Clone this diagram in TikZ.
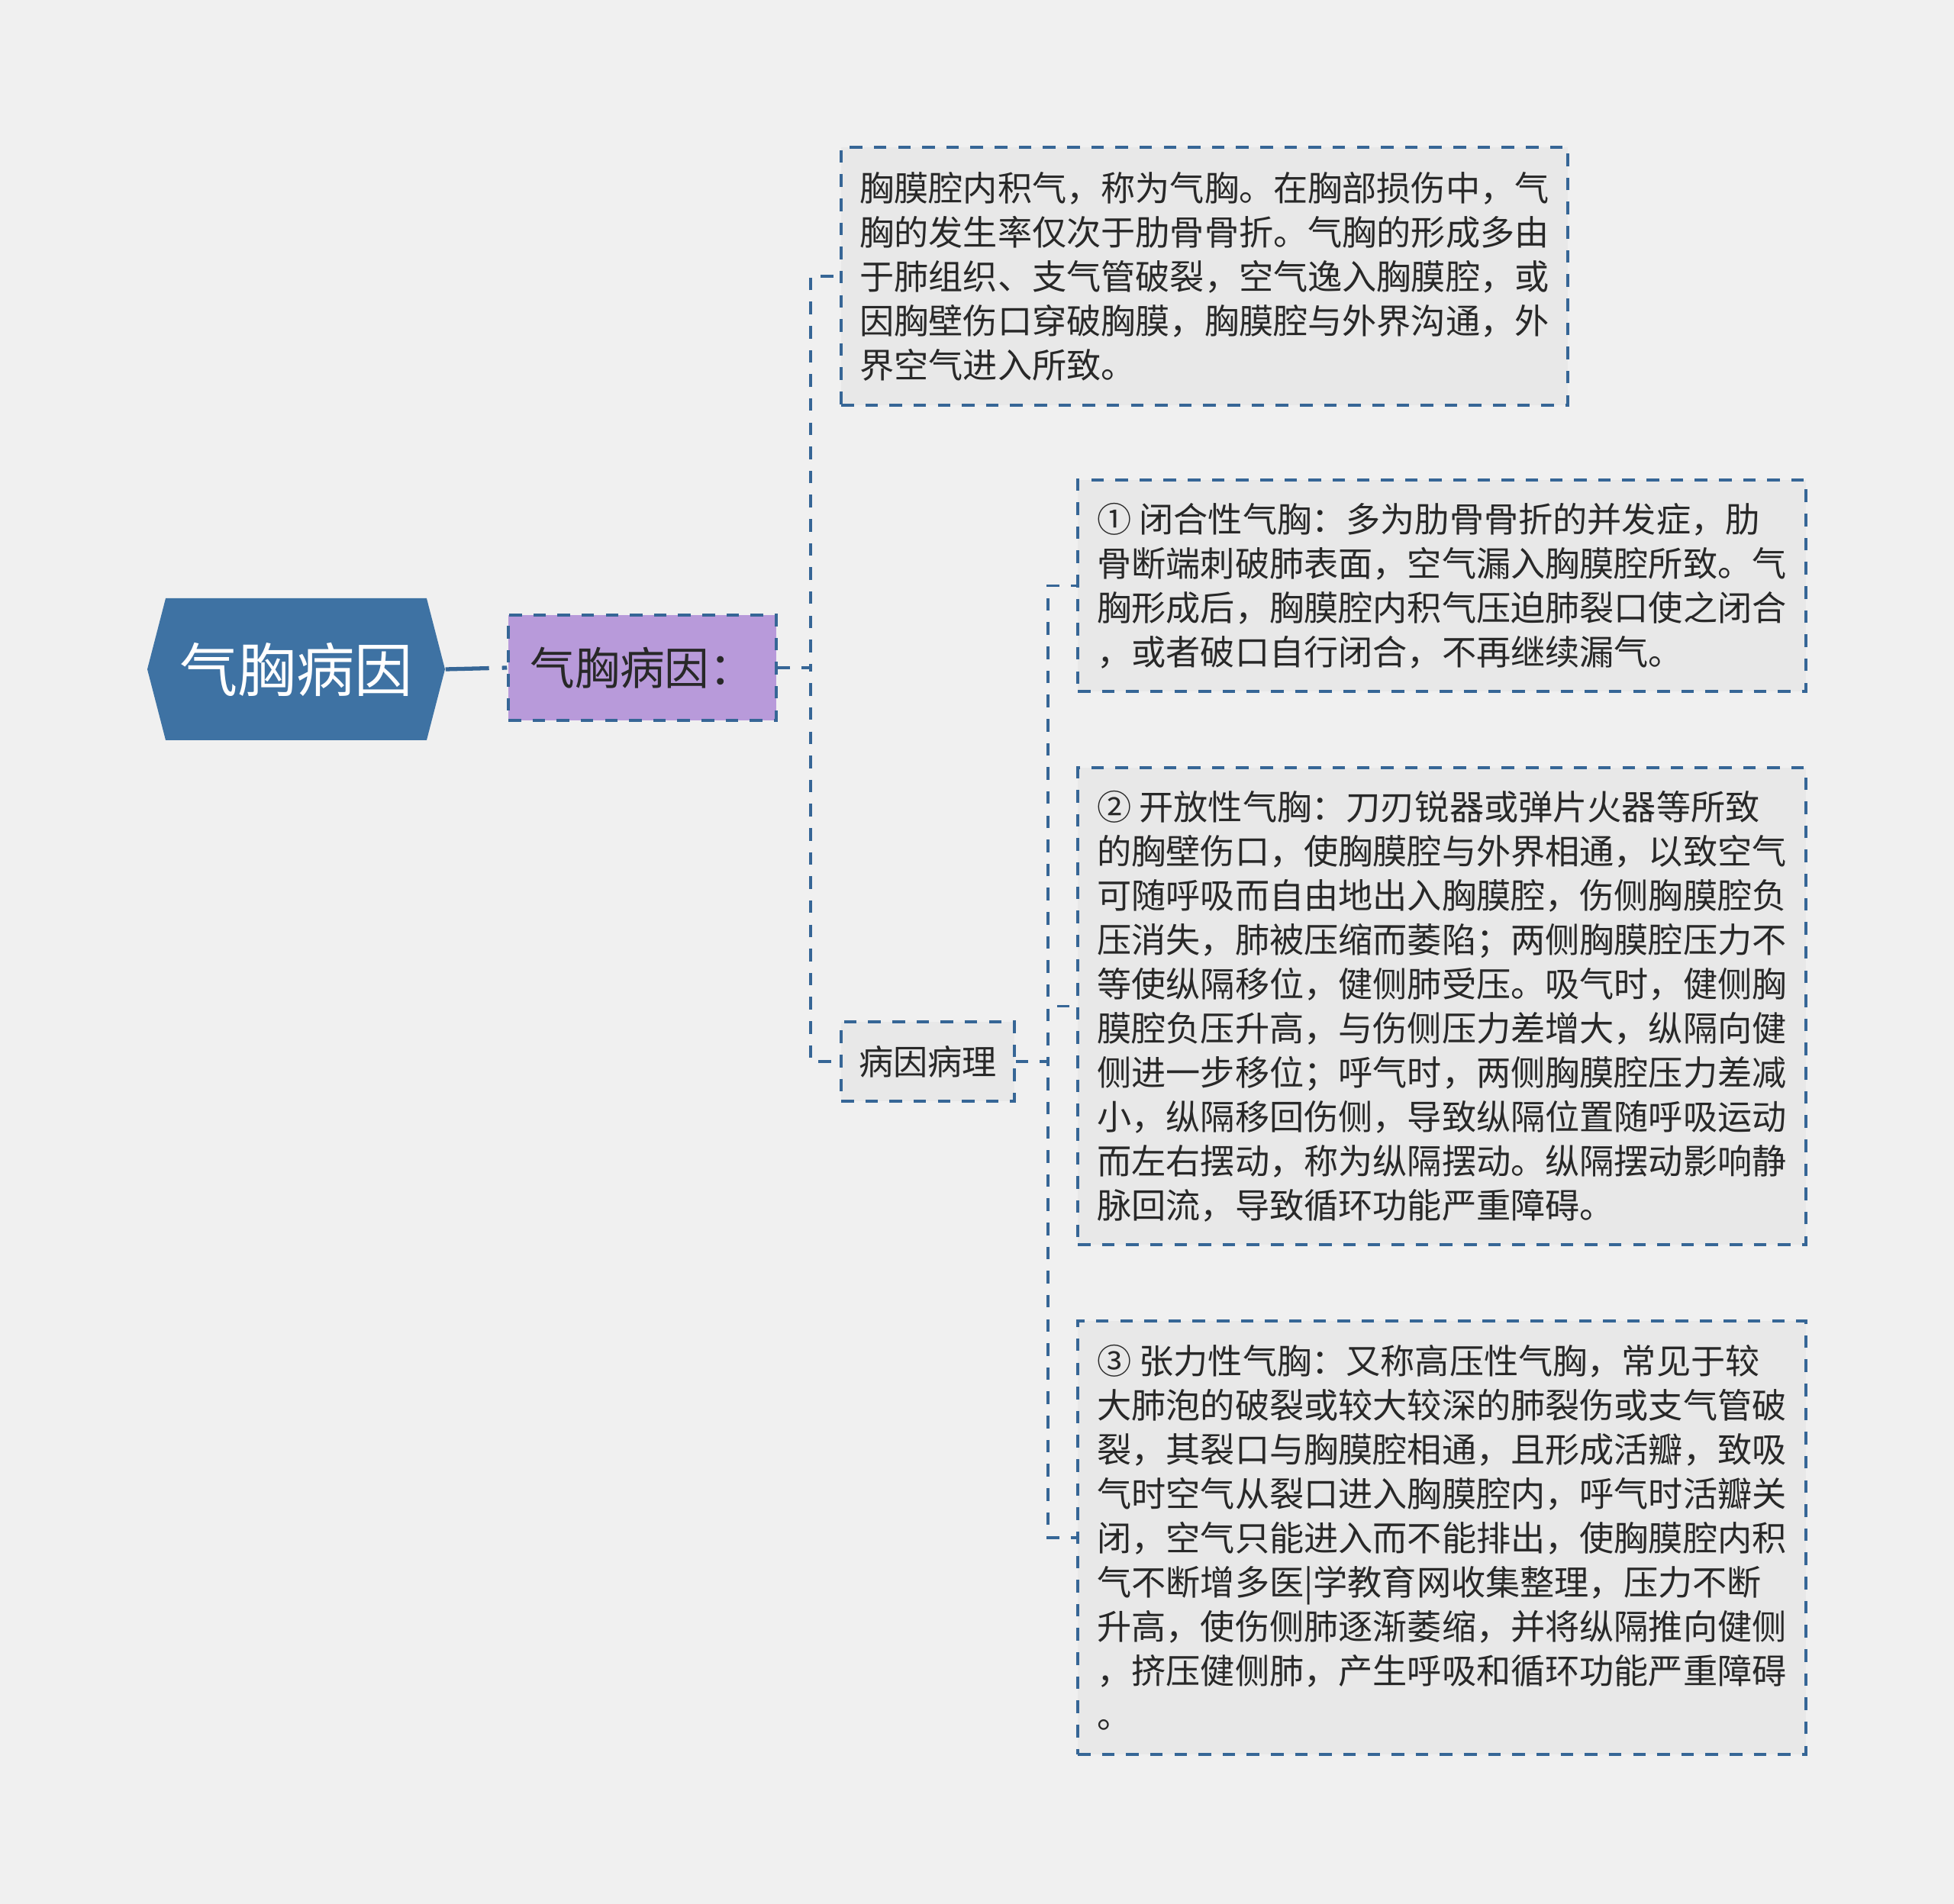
\documentclass[tikz,border=0pt]{standalone}
\usepackage{fontspec}
\setmainfont{Noto Sans CJK SC}
\usetikzlibrary{shapes.symbols}

\definecolor{bgcol}{RGB}{240,240,240}
\definecolor{linecol}{RGB}{54,102,150}
\definecolor{rootcol}{RGB}{62,114,163}
\definecolor{purplecol}{RGB}{184,154,218}
\definecolor{boxcol}{RGB}{232,232,232}
\definecolor{textcol}{RGB}{40,40,40}

\begin{document}
\begin{tikzpicture}

  \tikzstyle{root} = [signal, signal to=east and west, signal pointer angle=151, minimum width=3.9cm, minimum height=1.86cm, inner sep=0pt, fill=rootcol, text=white, font=\fontsize{21.7pt}{26pt}\selectfont]
  \tikzstyle{sub}  = [rectangle, minimum width=3.51cm, minimum height=1.38cm, inner sep=0pt, draw=linecol, line width=1pt, dash pattern=on 4.7pt off 4.3pt, fill=purplecol, text=textcol, font=\fontsize{16.7pt}{20pt}\selectfont]
  \tikzstyle{leaf} = [rectangle, align=left, inner sep=0pt, draw=linecol, line width=1pt, dash pattern=on 4.7pt off 4.3pt, fill=boxcol, text=textcol, font=\fontsize{12.85pt}{16.5pt}\selectfont]
  \tikzstyle{link}  = [draw=linecol, line width=1pt, dash pattern=on 4.7pt off 4.3pt]
  \tikzstyle{trunk} = [draw=linecol, line width=1.5pt, dash pattern=on 0.57cm off 0.17cm]

  \fill [bgcol] (0,0) rectangle (25.6,-24.95);

  \node (root)  [root, xshift=3.88cm, yshift=-8.77cm] {气胸病因};
  \node (cause) [sub, xshift=8.415cm, yshift=-8.75cm] {气胸病因：};

  \node (intro) [leaf, minimum width=9.52cm, minimum height=3.38cm, xshift=15.78cm, yshift=-3.62cm] {胸膜腔内积气，称为气胸。在胸部损伤中，气\\
胸的发生率仅次于肋骨骨折。气胸的形成多由\\
于肺组织、支气管破裂，空气逸入胸膜腔，或\\
因胸壁伤口穿破胸膜，胸膜腔与外界沟通，外\\
界空气进入所致。};

  \node (patho) [leaf, minimum width=2.27cm, minimum height=1.04cm, xshift=12.155cm, yshift=-13.91cm] {病因病理};

  \node (closed) [leaf, minimum width=9.54cm, minimum height=2.77cm, xshift=18.89cm, yshift=-7.675cm] {① 闭合性气胸：多为肋骨骨折的并发症，肋\\
骨断端刺破肺表面，空气漏入胸膜腔所致。气\\
胸形成后，胸膜腔内积气压迫肺裂口使之闭合\\
，或者破口自行闭合，不再继续漏气。};

  \node (open) [leaf, minimum width=9.54cm, minimum height=6.25cm, xshift=18.89cm, yshift=-13.185cm] {② 开放性气胸：刀刃锐器或弹片火器等所致\\
的胸壁伤口，使胸膜腔与外界相通，以致空气\\
可随呼吸而自由地出入胸膜腔，伤侧胸膜腔负\\
压消失，肺被压缩而萎陷；两侧胸膜腔压力不\\
等使纵隔移位，健侧肺受压。吸气时，健侧胸\\
膜腔负压升高，与伤侧压力差增大，纵隔向健\\
侧进一步移位；呼气时，两侧胸膜腔压力差减\\
小，纵隔移回伤侧，导致纵隔位置随呼吸运动\\
而左右摆动，称为纵隔摆动。纵隔摆动影响静\\
脉回流，导致循环功能严重障碍。};

  \node (tension) [leaf, minimum width=9.54cm, minimum height=5.68cm, xshift=18.89cm, yshift=-20.15cm] {③ 张力性气胸：又称高压性气胸，常见于较\\
大肺泡的破裂或较大较深的肺裂伤或支气管破\\
裂，其裂口与胸膜腔相通，且形成活瓣，致吸\\
气时空气从裂口进入胸膜腔内，呼气时活瓣关\\
闭，空气只能进入而不能排出，使胸膜腔内积\\
气不断增多医|学教育网收集整理，压力不断\\
升高，使伤侧肺逐渐萎缩，并将纵隔推向健侧\\
，挤压健侧肺，产生呼吸和循环功能严重障碍\\
。};

  \draw [trunk] (root.east) -- (cause.west);
  \draw [link] (cause.east) -- ++(0.43,0) |- (intro.west);
  \draw [link] (cause.east) -- ++(0.43,0) |- (patho.west);
  \draw [link] (patho.east) -- ++(0.42,0) |- (closed.west);
  \draw [link] (patho.east) -- ++(0.42,0) |- (open.west);
  \draw [link] (patho.east) -- ++(0.42,0) |- (tension.west);

\end{tikzpicture}
\end{document}
